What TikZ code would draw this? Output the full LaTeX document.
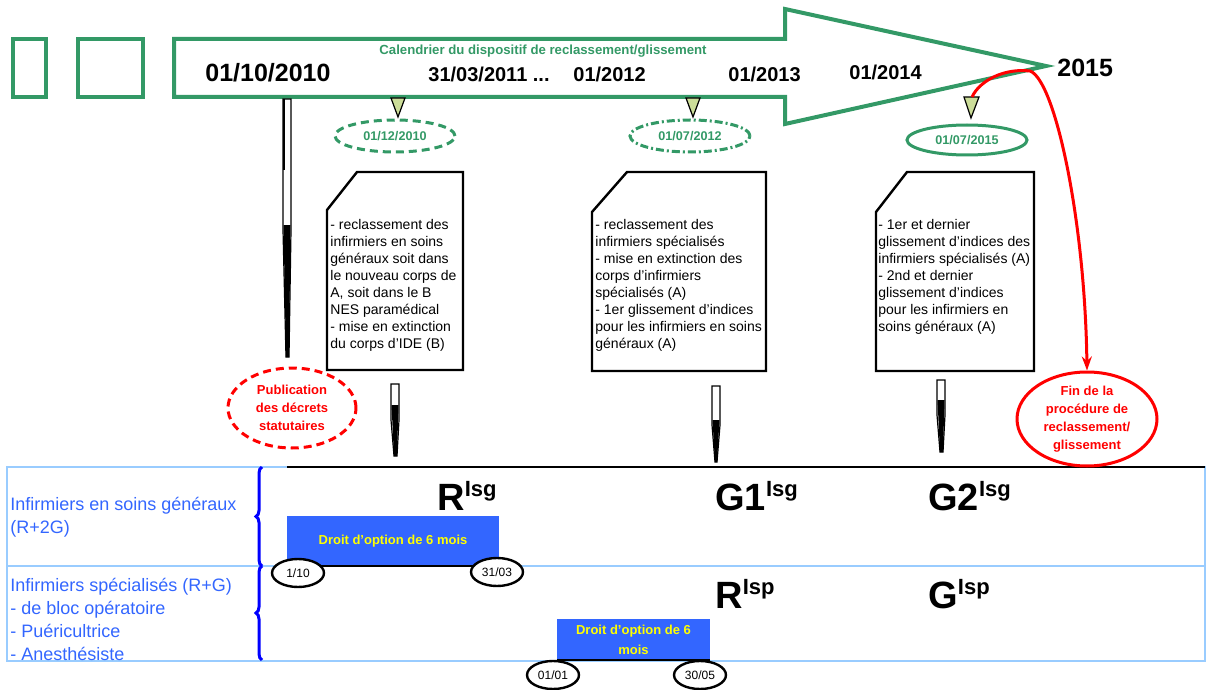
\documentclass[tikz,border=0pt]{standalone}
\usepackage{fontspec}
\setmainfont{Liberation Sans}
\usetikzlibrary{shapes.geometric,decorations.pathreplacing,arrows.meta}
\definecolor{grn}{RGB}{51,153,102}
\definecolor{tri}{RGB}{204,221,153}
\definecolor{tblue}{RGB}{153,204,255}
\definecolor{lblue}{RGB}{51,102,255}
\definecolor{bbox}{RGB}{51,102,255}
\definecolor{brk}{RGB}{0,0,255}
\definecolor{yel}{RGB}{255,255,0}
\tikzset{
 datelbl/.style={font=\fontsize{10}{12}\selectfont\bfseries, anchor=base west, inner sep=0},
 bigdate/.style={font=\fontsize{12.5}{14}\selectfont\bfseries, anchor=base west, inner sep=0},
 doctext/.style={font=\fontsize{7}{8.5}\selectfont, align=left, anchor=north west, inner sep=0},
 docshape/.style={draw, line width=1.2pt, fill=white},
 greenell/.style={ellipse, draw=grn, line width=1.5pt, text=grn, font=\fontsize{6.3}{7}\selectfont\bfseries, minimum width=60pt, minimum height=16pt, inner sep=0},
 tribox/.style={fill=tri, draw=black, line width=0.6pt},
 redell/.style={ellipse, draw=red, line width=1.5pt, text=red, font=\fontsize{6.5}{9}\selectfont\bfseries, align=center, inner sep=0},
 smallell/.style={ellipse, draw=black, line width=1.2pt, fill=white, font=\fontsize{6}{7}\selectfont, minimum width=26pt, minimum height=14pt, inner sep=0},
 bluebox/.style={fill=bbox, text=yel, font=\fontsize{6.5}{10}\selectfont\bfseries, align=center, inner sep=0},
 rowlbl/.style={text=lblue, font=\fontsize{9}{11.4}\selectfont, align=left, anchor=north west, inner sep=0},
 codelbl/.style={font=\fontsize{19}{20}\selectfont\bfseries, anchor=base west, inner sep=0},
 needlebody/.style={fill=white, draw=black, line width=0.6pt},
}
\newcommand{\supx}[2]{#1\raisebox{7pt}{\fontsize{11}{11}\selectfont #2}}
\begin{document}
\begin{tikzpicture}[x=0.5pt,y=-0.5pt]
\useasboundingbox (0,0) rectangle (1211,690);

% small green boxes
\draw[grn, line width=2pt] (13,39) rectangle (46,97);
\draw[grn, line width=2pt] (78,39) rectangle (143,97);

% big arrow
\draw[grn, line width=2pt, line join=miter] (174,39) -- (785,39) -- (785,9) -- (1046,66) -- (785,124) -- (785,97) -- (174,97) -- cycle;
\node[text=grn, font=\fontsize{6.6}{7}\selectfont\bfseries, inner sep=0] (cal) at (543,51) {Calendrier du dispositif de reclassement/glissement};

% dates
\node[bigdate] (d1) at (205,82) {01/10/2010};
\node[datelbl] (d2) at (428,82) {31/03/2011 ...};
\node[datelbl] (d3) at (573,82) {01/2012};
\node[datelbl] (d4) at (728,82) {01/2013};
\node[datelbl] (d5) at (849,80) {01/2014};
\node[bigdate] (d6) at (1057,77) {2015};

% triangles
\draw[tribox] (391,98) -- (405,98) -- (398,117) -- cycle;
\draw[tribox] (686,98) -- (700,98) -- (693,117) -- cycle;
\draw[tribox] (964,97) -- (979,97) -- (971,118) -- cycle;
\coordinate (t3) at (972,97);
\coordinate (rc) at (1030,71);

% green ellipses
\node[greenell, dash pattern=on 4pt off 2.5pt] (e1) at (395,136) {01/12/2010};
\node[greenell, dash pattern=on 4pt off 1.5pt on 1pt off 1.5pt] (e2) at (690,136) {01/07/2012};
\node[greenell, minimum height=15pt] (e3) at (967,140) {01/07/2015};

% needle under 01/10/2010
\draw[needlebody] (283,99) -- (291,99) -- (291,230) -- (289,357) -- (286,357) -- (283,230) -- cycle;
\fill (283.5,225) -- (290.5,225) -- (289,357) -- (286,357) -- cycle;
\fill (283,99) rectangle (285,170);

% documents
\draw[docshape] (327,210) -- (357,172) -- (463,172) -- (463,370) -- (327,370) -- cycle;
\node[doctext] (doc1) at (330,219) {- reclassement des\\infirmiers en soins\\généraux soit dans\\le nouveau corps de\\A, soit dans le B\\NES paramédical\\- mise en extinction\\du corps d'IDE (B)};
\draw[docshape] (592,212) -- (627,172) -- (766,172) -- (766,371) -- (592,371) -- cycle;
\node[doctext] (doc2) at (595,219) {- reclassement des\\infirmiers spécialisés\\- mise en extinction des\\corps d'infirmiers\\spécialisés (A)\\- 1er glissement d'indices\\pour les infirmiers en soins\\généraux (A)};
\draw[docshape] (876,212) -- (907,172) -- (1034,172) -- (1034,371) -- (876,371) -- cycle;
\node[doctext] (doc3) at (878,219) {- 1er et dernier\\glissement d'indices des\\infirmiers spécialisés (A)\\- 2nd et dernier\\glissement d'indices\\pour les infirmiers en\\soins généraux (A)};

% needles under documents
\draw[needlebody] (391,384) -- (399,384) -- (399,420) -- (397,456) -- (394,456) -- (391,420) -- cycle;
\fill (391.5,405) -- (398.5,405) -- (397,456) -- (394,456) -- cycle;
\draw[needlebody] (712,386) -- (720,386) -- (720,425) -- (717,462) -- (715,462) -- (712,425) -- cycle;
\fill (712.5,420) -- (719.5,420) -- (717,462) -- (715,462) -- cycle;
\draw[needlebody] (937,380) -- (945,380) -- (945,415) -- (943,452) -- (940,452) -- (937,415) -- cycle;
\fill (937.5,400) -- (944.5,400) -- (943,452) -- (940,452) -- cycle;

% table
\draw[tblue, line width=1pt] (7,467) rectangle (1205,661);
\draw[tblue, line width=1pt] (7,566) -- (1205,566);
\draw[black, line width=1pt] (287,467) -- (1205,467);
\draw[brk, line width=1.5pt, decorate, decoration={brace, amplitude=3pt}] (262,566) -- (262,467);
\draw[brk, line width=1.5pt, decorate, decoration={brace, amplitude=3pt}] (262,660) -- (262,566);
\node[rowlbl] (row1) at (10,497) {Infirmiers en soins généraux\\(R+2G)};
\node[rowlbl] (row2) at (10,578) {Infirmiers spécialisés (R+G)\\- de bloc opératoire\\- Puéricultrice\\- Anesthésiste};

% red ellipses and curve
\node[redell, dash pattern=on 4pt off 2.5pt, minimum width=64pt, minimum height=40pt] (pub) at (292,408) {Publication\\des décrets\\statutaires};
\node[redell, minimum width=70pt, minimum height=47pt] (fin) at (1087,419) {Fin de la\\procédure de\\reclassement/\\glissement};
\draw[red, line width=1.5pt, -{Stealth[length=7pt,width=5pt]}] (t3) .. controls (980,80) and (1005,68) .. (rc) .. controls (1055,80) and (1085,220) .. (fin.north);

% option boxes
\node[bluebox, minimum width=106pt, minimum height=25pt] (b1) at (393,541) {Droit d'option de 6 mois};
\draw[black, line width=1pt] (b1.south west) -- (b1.south east);
\node[bluebox, minimum width=76.5pt, minimum height=20.5pt] (b2) at (633.5,639.5) {Droit d'option de 6\\mois};
\draw[black, line width=1pt] (b2.south west) -- (b2.south east);
\node[smallell] (s1) at (298,573) {1/10};
\node[smallell] (s2) at (497,572) {31/03};
\node[smallell] (s3) at (553,675) {01/01};
\node[smallell] (s4) at (700,675) {30/05};

% codes
\node[codelbl] (c1) at (437,510) {\supx{R}{Isg}};
\node[codelbl] (c2) at (715,510) {\supx{G1}{Isg}};
\node[codelbl] (c3) at (928,510) {\supx{G2}{Isg}};
\node[codelbl] (c4) at (715,608) {\supx{R}{Isp}};
\node[codelbl] (c5) at (928,608) {\supx{G}{Isp}};
\end{tikzpicture}
\end{document}
